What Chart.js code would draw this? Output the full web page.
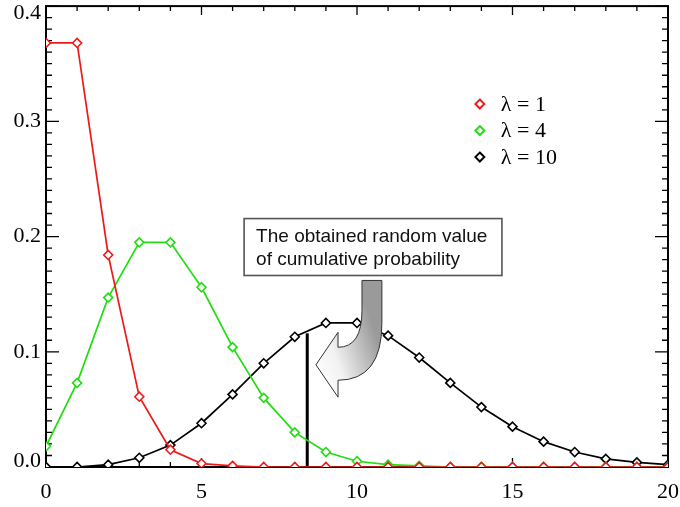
<!DOCTYPE html>
<html>
<head>
<meta charset="utf-8">
<script src="https://cdn.jsdelivr.net/npm/chart.js@4.4.1/dist/chart.umd.min.js"></script>
<style>
  html, body { margin: 0; padding: 0; background: #fff; }
</style>
</head>
<body>
<canvas id="poissonChart" width="680" height="507"></canvas>
<script>
// Valores (probabilidad de Poisson para k = 0..20)
const K_VALUES = [0, 1, 2, 3, 4, 5, 6, 7, 8, 9, 10, 11, 12, 13, 14, 15, 16, 17, 18, 19, 20];
const PMF_L1  = [0.368, 0.368, 0.184, 0.061, 0.015, 0.003, 0.001, 0, 0, 0, 0, 0, 0, 0, 0, 0, 0, 0, 0, 0, 0];
const PMF_L4  = [0.018, 0.073, 0.147, 0.195, 0.195, 0.156, 0.104, 0.060, 0.030, 0.013, 0.005, 0.002, 0.001, 0, 0, 0, 0, 0, 0, 0, 0];
const PMF_L10 = [0.000, 0.000, 0.002, 0.008, 0.019, 0.038, 0.063, 0.090, 0.113, 0.125, 0.125, 0.114, 0.095, 0.073, 0.052, 0.035, 0.022, 0.013, 0.007, 0.004, 0.002];
const SERIES_LABELS = ['λ = 1', 'λ = 4', 'λ = 10'];
const SERIES_COLORS = ['#ee1a1a', '#22dd11', '#000000'];
const X_TICKS = [0, 5, 10, 15, 20];
const Y_TICKS = [0, 0.1, 0.2, 0.3, 0.4];
const X_MINOR_STEP = 1;
const Y_MINOR_STEP = 0.01;

// Valor acumulado obtenido (línea vertical)
const CUT_X = 8.4;
const CUT_Y = 0.116;
const NOTE_LINES = ['The obtained random value', 'of cumulative probability'];

const SERIF = '"Liberation Serif", "DejaVu Serif", serif';
const SANS = '"Liberation Sans", Arial, sans-serif';

function toPoints(values) {
    return K_VALUES.map((k, i) => ({ x: k, y: values[i] }));
}

function seriesDataset(idx, values) {
    return {
        label: SERIES_LABELS[idx],
        data: toPoints(values),
        borderColor: SERIES_COLORS[idx],
        borderWidth: 1.7,
        pointStyle: 'rectRot',
        pointRadius: 4.5,
        pointBorderWidth: 1.6,
        pointBorderColor: SERIES_COLORS[idx],
        pointBackgroundColor: '#fff',
        tension: 0,
        clip: 0
    };
}

// Marco con marcas hacia dentro en los cuatro lados (estilo IDL)
const frameAndTicks = {
    id: 'frameAndTicks',
    beforeDatasetsDraw(chart) {
        const { ctx, chartArea: a, scales: { x, y } } = chart;
        ctx.save();
        ctx.strokeStyle = '#000';
        ctx.lineWidth = 1.3;
        ctx.beginPath();
        const nx = Math.round((x.max - x.min) / X_MINOR_STEP);
        for (let i = 0; i <= nx; i++) {
            const v = x.min + i * X_MINOR_STEP;
            const px = x.getPixelForValue(v);
            const len = X_TICKS.includes(v) ? 9 : 5;
            ctx.moveTo(px, a.bottom); ctx.lineTo(px, a.bottom - len);
            ctx.moveTo(px, a.top); ctx.lineTo(px, a.top + len);
        }
        const ny = Math.round((y.max - y.min) / Y_MINOR_STEP);
        for (let i = 0; i <= ny; i++) {
            const py = y.getPixelForValue(y.min + i * Y_MINOR_STEP);
            const len = i % 10 === 0 ? 13 : 6;
            ctx.moveTo(a.left, py); ctx.lineTo(a.left + len, py);
            ctx.moveTo(a.right, py); ctx.lineTo(a.right - len, py);
        }
        ctx.stroke();

        ctx.lineWidth = 2;
        ctx.strokeRect(a.left, a.top, a.right - a.left, a.bottom - a.top);

        // etiquetas del eje y
        ctx.fillStyle = '#000';
        ctx.font = '22px ' + SERIF;
        ctx.textAlign = 'right';
        ctx.textBaseline = 'middle';
        Y_TICKS.forEach(v => {
            let py = y.getPixelForValue(v);
            py = Math.min(Math.max(py, 13), 461);
            ctx.fillText(v.toFixed(1), a.left - 5, py);
        });
        ctx.restore();
    }
};

// Leyenda, recuadro de texto y flecha curva
const annotations = {
    id: 'annotations',
    afterDatasetsDraw(chart) {
        const { ctx, scales: { x, y } } = chart;
        const X = v => x.getPixelForValue(v);
        const Y = v => y.getPixelForValue(v);
        ctx.save();

        // leyenda
        const lx = X(13.95);
        let ly = Y(0.315);
        ctx.font = '22px ' + SERIF;
        ctx.textAlign = 'left';
        ctx.textBaseline = 'middle';
        for (let i = 0; i < 3; i++) {
            const ds = chart.data.datasets[i];
            ctx.strokeStyle = ds.borderColor;
            ctx.fillStyle = '#fff';
            ctx.lineWidth = 1.9;
            ctx.beginPath();
            ctx.moveTo(lx, ly - 4.5); ctx.lineTo(lx + 4.5, ly);
            ctx.lineTo(lx, ly + 4.5); ctx.lineTo(lx - 4.5, ly);
            ctx.closePath();
            ctx.fill(); ctx.stroke();
            ctx.fillStyle = '#000';
            ctx.fillText(ds.label, lx + 21, ly + 1);
            ly += 26.5;
        }

        // flecha curva con degradado
        const sL = X(10.16), sR = X(10.80), sTop = Y(0.1619);
        const headX = X(9.39), tipX = X(8.68);
        ctx.beginPath();
        ctx.moveTo(sL, sTop);
        ctx.lineTo(sR, sTop);
        ctx.lineTo(sR, Y(0.1247));
        ctx.quadraticCurveTo(sR, Y(0.0753), headX, Y(0.0753));
        ctx.lineTo(headX, Y(0.0606));
        ctx.lineTo(tipX, Y(0.0887));
        ctx.lineTo(headX, Y(0.1169));
        ctx.lineTo(headX, Y(0.1039));
        ctx.quadraticCurveTo(sL, Y(0.1039), sL, Y(0.1359));
        ctx.closePath();
        const grad = ctx.createLinearGradient(tipX, Y(0.08), sR, Y(0.10));
        grad.addColorStop(0, '#ffffff');
        grad.addColorStop(0.35, '#f2f2f2');
        grad.addColorStop(1, '#9a9a9a');
        ctx.fillStyle = grad;
        ctx.fill();
        ctx.strokeStyle = '#333';
        ctx.lineWidth = 1;
        ctx.stroke();

        // recuadro de texto
        const bx = X(6.37), by = Y(0.2156);
        const bw = X(14.66) - bx, bh = Y(0.1662) - by;
        ctx.fillStyle = '#fff';
        ctx.fillRect(bx, by, bw, bh);
        ctx.strokeStyle = '#555';
        ctx.lineWidth = 1.6;
        ctx.strokeRect(bx, by, bw, bh);
        ctx.fillStyle = '#111';
        ctx.font = '19px ' + SANS;
        ctx.textBaseline = 'middle';
        ctx.fillText(NOTE_LINES[0], bx + 12, by + 18);
        ctx.fillText(NOTE_LINES[1], bx + 12, by + 41);

        ctx.restore();
    }
};

const chart = new Chart(document.getElementById('poissonChart'), {
    type: 'line',
    data: {
        datasets: [
            seriesDataset(0, PMF_L1),
            seriesDataset(1, PMF_L4),
            seriesDataset(2, PMF_L10),
            {
                label: 'cut',
                data: [{ x: CUT_X, y: 0 }, { x: CUT_X, y: CUT_Y }],
                borderColor: '#000',
                borderWidth: 3,
                pointRadius: 0,
                clip: 0
            }
        ]
    },
    options: {
        responsive: false,
        animation: false,
        layout: { padding: { top: 5, right: 12, left: 0, bottom: 0 } },
        scales: {
            x: {
                type: 'linear',
                min: 0,
                max: 20,
                afterBuildTicks(s) { s.ticks = X_TICKS.map(v => ({ value: v })); },
                afterFit(s) { s.height = 40; s.paddingLeft = 0; s.paddingRight = 0; },
                grid: { display: false },
                border: { display: false },
                ticks: {
                    color: '#000',
                    padding: 4,
                    maxRotation: 0,
                    font: { family: SERIF, size: 22 },
                    callback: v => String(v)
                }
            },
            y: {
                type: 'linear',
                min: 0,
                max: 0.4,
                afterBuildTicks(s) { s.ticks = Y_TICKS.map(v => ({ value: v })); },
                afterFit(s) { s.width = 46; s.paddingTop = 0; s.paddingBottom = 0; },
                grid: { display: false },
                border: { display: false },
                ticks: { display: false }
            }
        },
        plugins: {
            legend: { display: false },
            tooltip: { enabled: false }
        }
    },
    plugins: [frameAndTicks, annotations]
});
</script>
</body>
</html>
